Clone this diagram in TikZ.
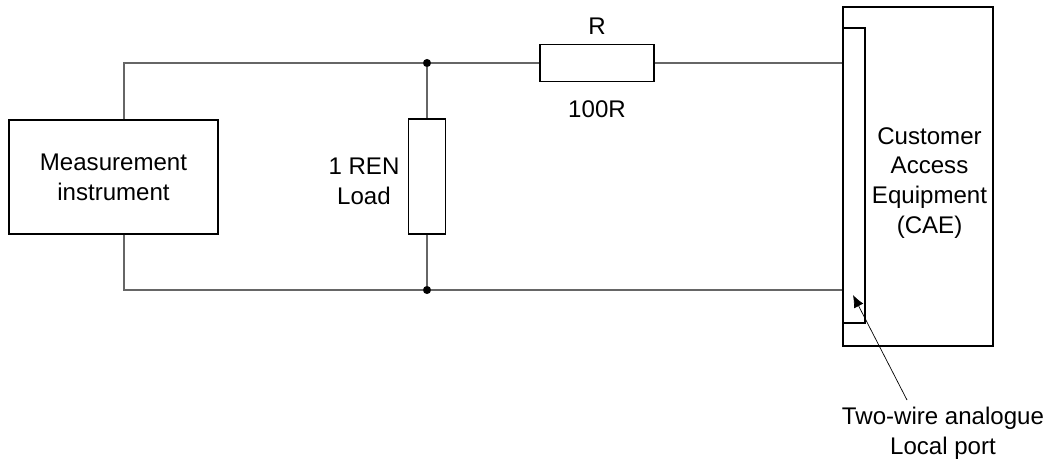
\documentclass[tikz,border=0pt]{standalone}
\usepackage{fontspec}
\setmainfont{Liberation Sans}
\usetikzlibrary{arrows.meta}
\definecolor{mygray}{gray}{0.4}
\begin{document}
\begin{tikzpicture}[x=0.02cm,y=-0.02cm,
every node/.style={font=\fontsize{13.7}{17}\selectfont,align=center,inner sep=0pt},
box/.style={draw,line width=0.85pt,minimum width=#1},
wire/.style={mygray,line width=0.65pt},
dot/.style={circle,fill=black,minimum size=4.6pt}]
\useasboundingbox (0,0) rectangle (1050,464);
\node[box=4.18cm,minimum height=2.28cm] (instrument) at (113.5,177) {Measurement\\instrument};
\node[box=0.74cm,minimum height=2.3cm] (load) at (427,176.5) {};
\node[box=2.28cm,minimum height=0.74cm] (resistor) at (597,63) {};
\node[box=3cm,minimum height=6.78cm] (cae) at (918,176.5) {};
\node[box=0.44cm,minimum height=5.9cm] (port) at (854,175.5) {};
\node (dottop) [dot] at (427,63) {};
\node (dotbottom) [dot] at (427,290) {};
\coordinate (topleft) at (124,63);
\coordinate (bottomleft) at (124,290);
\coordinate (arrowstart) at (907,400);
\coordinate (arrowend) at (853,295);
% wires
\draw [wire] (instrument.north -| topleft) -- (topleft) -- (dottop) -- (resistor.west);
\draw [wire] (resistor.east) -- (resistor.east -| port.west);
\draw [wire] (instrument.south -| bottomleft) -- (bottomleft) -- (dotbottom) -- (dotbottom -| port.west);
\draw [wire] (dottop) -- (load.north);
\draw [wire] (load.south) -- (dotbottom);
\draw [-{Latex[length=7pt,width=6pt]},line width=0.4pt] (arrowstart) -- (arrowend);
% labels
\node (rname) at (597,26) {R};
\node (rvalue) at (597,109) {100R};
\node (loadtext) at (364,181) {1 REN\\Load};
\node (caetext) at (929.5,183) {Customer\\Access\\Equipment\\(CAE)};
\node (porttext) at (943,433) {Two-wire analogue\\Local port};
\end{tikzpicture}
\end{document}
